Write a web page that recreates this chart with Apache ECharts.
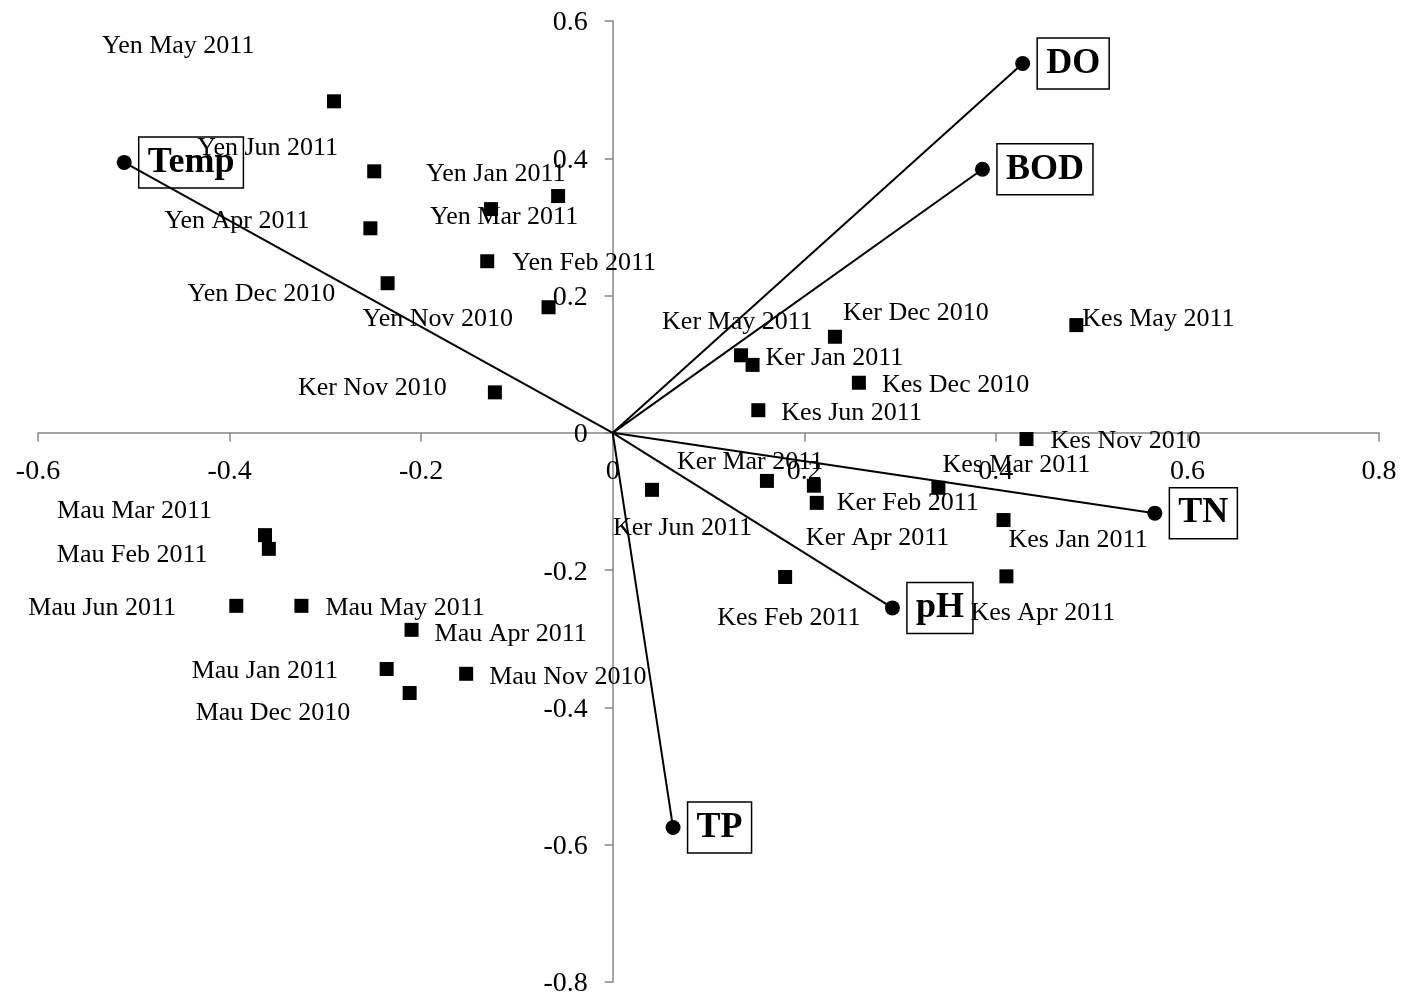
<!DOCTYPE html>
<html>
<head>
<meta charset="utf-8">
<script src="https://cdn.jsdelivr.net/npm/echarts@6/dist/echarts.min.js"></script>
<style>
  html, body { margin: 0; padding: 0; background: #fff; }
  #chart { width: 1401px; height: 997px; }
</style>
</head>
<body>
<div id="chart"></div>
<script>
// PCA biplot: sampling sites/months (scores) and water-quality variables (loadings)

// Sample scores on PC1 / PC2
const samples = [
  'Yen May 2011', 'Yen Jun 2011', 'Yen Jan 2011', 'Yen Mar 2011', 'Yen Apr 2011',
  'Yen Feb 2011', 'Yen Dec 2010', 'Yen Nov 2010', 'Ker Nov 2010',
  'Mau Mar 2011', 'Mau Feb 2011', 'Mau Jun 2011', 'Mau May 2011', 'Mau Apr 2011',
  'Mau Jan 2011', 'Mau Nov 2010', 'Mau Dec 2010',
  'Ker May 2011', 'Ker Jan 2011', 'Ker Dec 2010', 'Kes Dec 2010', 'Kes Jun 2011',
  'Kes May 2011', 'Kes Nov 2010',
  'Ker Jun 2011', 'Ker Mar 2011', 'Ker Apr 2011', 'Ker Feb 2011', 'Kes Mar 2011',
  'Kes Jan 2011', 'Kes Apr 2011', 'Kes Feb 2011'
];
const samplePC1 = [
  -0.291, -0.249, -0.057, -0.127, -0.253,
  -0.131, -0.235, -0.067, -0.123,
  -0.363, -0.359, -0.393, -0.325, -0.210,
  -0.236, -0.153, -0.212,
  0.134, 0.146, 0.232, 0.257, 0.152,
  0.484, 0.432,
  0.041, 0.161, 0.210, 0.213, 0.340,
  0.408, 0.411, 0.180
];
const samplePC2 = [
  0.483, 0.381, 0.345, 0.326, 0.298,
  0.250, 0.218, 0.183, 0.059,
  -0.149, -0.169, -0.252, -0.252, -0.287,
  -0.344, -0.351, -0.379,
  0.113, 0.099, 0.140, 0.073, 0.033,
  0.157, -0.009,
  -0.083, -0.070, -0.077, -0.102, -0.080,
  -0.127, -0.209, -0.210
];

// Variable loadings on PC1 / PC2
const variables = ['Temp', 'DO', 'BOD', 'TN', 'pH', 'TP'];
const variablePC1 = [-0.510, 0.428, 0.386, 0.566, 0.292, 0.063];
const variablePC2 = [0.394, 0.538, 0.384, -0.117, -0.255, -0.575];

// Axis ranges and tick labels
const xRange = { min: -0.6, max: 0.8, step: 0.2 };
const yRange = { min: -0.8, max: 0.6, step: 0.2 };
const xTickLabels = ['-0.6', '-0.4', '-0.2', '0', '0.2', '0.4', '0.6', '0.8'];
const yTickLabels = ['-0.8', '-0.6', '-0.4', '-0.2', '0', '0.2', '0.4', '0.6'];

// Hand-placed sample label offsets, in px from the marker centre
// to the left edge / vertical middle of the label text
const sampleLabelOffset = [
  [-232, -55], [-177, -23], [-132, -22], [-61, 8], [-206, -7],
  [25, 2], [-200, 11], [-186, 12], [-197, -4],
  [-208, -24], [-212, 6], [-208, 2], [24, 2], [23, 4],
  [-195, 2], [23, 3], [-214, 20],
  [-79, -33], [13, -7], [8, -24], [23, 2], [23, 3],
  [6, -6], [24, 2],
  [-39, 38], [-90, -19], [-8, 52], [20, 0], [4, -23],
  [5, 20], [-36, 37], [-68, 41]
];

const serif = '"Liberation Serif", "Times New Roman", serif';
const axisGrey = '#868686';

const vectorSeries = variables.map((name, i) => ({
  type: 'line',
  name: name,
  silent: true,
  z: 3,
  symbol: 'circle',
  symbolSize: 15,
  showSymbol: true,
  showAllSymbol: true,
  lineStyle: { color: '#000', width: 2 },
  itemStyle: { color: '#000', opacity: 1 },
  label: { show: false },
  data: [
    { value: [0, 0], symbol: 'none' },
    {
      value: [variablePC1[i], variablePC2[i]],
      label: {
        show: true,
        position: 'right',
        distance: 7,
        formatter: name,
        fontFamily: serif,
        fontWeight: 'bold',
        fontSize: 36,
        lineHeight: 37,
        color: '#000',
        borderColor: '#000',
        borderWidth: 1.5,
        padding: [7, 9, 7, 9]
      }
    }
  ]
}));

const scatterSeries = {
  type: 'scatter',
  silent: true,
  z: 2,
  symbol: 'rect',
  symbolSize: 14,
  itemStyle: { color: '#000', opacity: 1 },
  label: {
    show: true,
    position: 'inside',
    align: 'left',
    verticalAlign: 'middle',
    formatter: '{b}',
    fontFamily: serif,
    fontSize: 26,
    color: '#000'
  },
  data: samples.map((name, i) => ({
    name: name,
    value: [samplePC1[i], samplePC2[i]],
    label: { offset: sampleLabelOffset[i] }
  }))
};

// Tick labels placed at the axis values so they follow the crossing axes
const tickLabelStyle = {
  show: true,
  fontFamily: serif,
  fontSize: 28,
  color: '#000'
};
const xTickSeries = {
  type: 'scatter',
  silent: true,
  z: 1,
  symbolSize: 0,
  itemStyle: { opacity: 1 },
  label: Object.assign({ position: 'bottom', distance: 25, formatter: '{b}' }, tickLabelStyle),
  data: xTickLabels.map(t => ({ name: t, value: [Number(t), 0] }))
};
const yTickSeries = {
  type: 'scatter',
  silent: true,
  z: 1,
  symbolSize: 0,
  itemStyle: { opacity: 1 },
  label: Object.assign({ position: 'left', distance: 25, offset: [0, 2], formatter: '{b}' }, tickLabelStyle),
  data: yTickLabels.map(t => ({ name: t, value: [0, Number(t)] }))
};

const chart = echarts.init(document.getElementById('chart'), null, { renderer: 'canvas' });
chart.setOption({
  animation: false,
  backgroundColor: '#fff',
  grid: { left: 38, top: 21, width: 1341, height: 961, containLabel: false, outerBoundsMode: 'none' },
  xAxis: {
    type: 'value',
    min: xRange.min, max: xRange.max, interval: xRange.step,
    axisLine: { onZero: true, lineStyle: { color: axisGrey, width: 1.5 } },
    axisTick: { show: true, length: 9, lineStyle: { color: axisGrey, width: 1.5 } },
    splitLine: { show: false },
    axisLabel: { show: false }
  },
  yAxis: {
    type: 'value',
    min: yRange.min, max: yRange.max, interval: yRange.step,
    axisLine: { onZero: true, lineStyle: { color: axisGrey, width: 1.5 } },
    axisTick: { show: true, length: 8, lineStyle: { color: axisGrey, width: 1.5 } },
    splitLine: { show: false },
    axisLabel: { show: false }
  },
  series: [xTickSeries, yTickSeries, scatterSeries].concat(vectorSeries)
});
</script>
</body>
</html>
